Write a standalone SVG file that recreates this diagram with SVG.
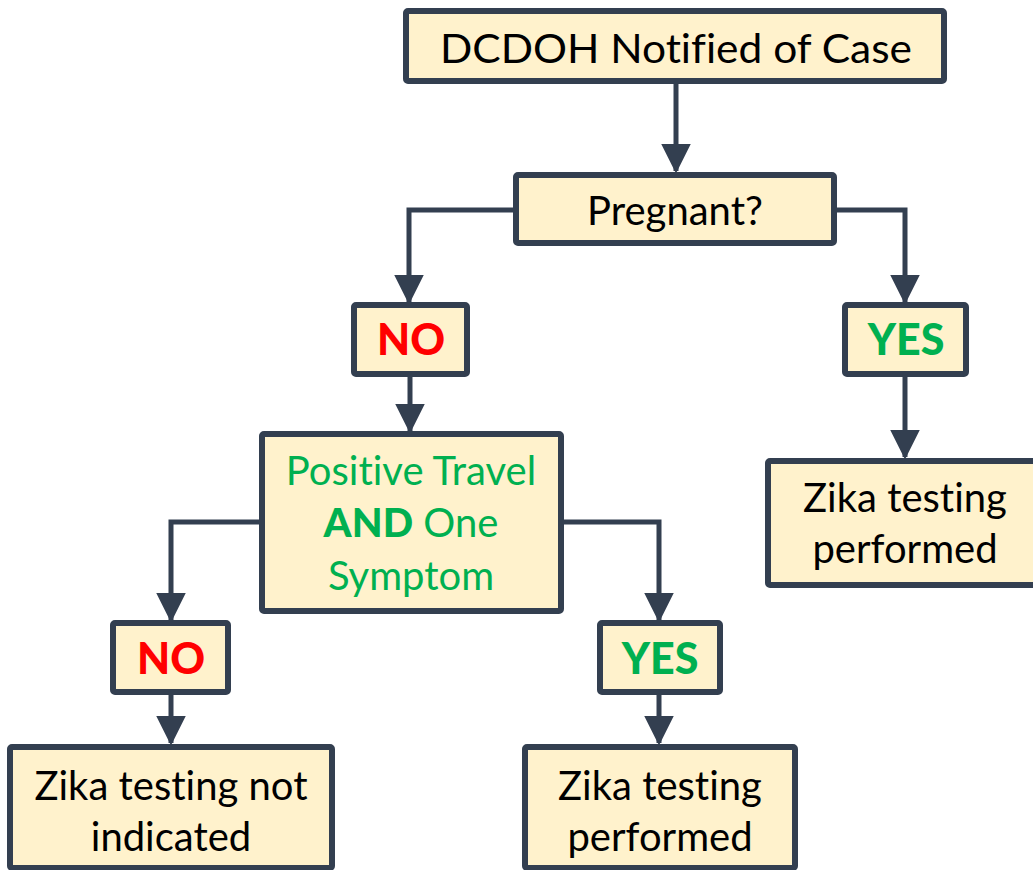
<svg xmlns="http://www.w3.org/2000/svg" width="1033" height="870" viewBox="0 0 1033 870">
<style>
text{font-variant-ligatures:none;font-feature-settings:"liga" 0}
.box{fill:#FFF2CC;stroke:#333F50;stroke-width:6;stroke-linejoin:round}
.t{font-family:Lato,"Liberation Sans",sans-serif;font-size:40px;fill:#000;text-anchor:middle}
.g{fill:#00B050}
.no{font-family:Lato,"Liberation Sans",sans-serif;font-weight:900;font-size:43px;fill:#FF0000;text-anchor:middle}
.yes{font-family:Lato,"Liberation Sans",sans-serif;font-weight:900;font-size:43px;fill:#00B050;text-anchor:middle}
.c{fill:none;stroke:#333F50;stroke-width:5;marker-end:url(#ah)}
</style>
<defs>
<marker id="ah" markerWidth="6" markerHeight="6" refX="5.5" refY="3" orient="auto" markerUnits="strokeWidth">
<path d="M0,0 L6,3 L0,6 Z" fill="#333F50"/>
</marker>
</defs>
<rect width="1033" height="870" fill="#FFFFFF"/>
<g id="connectors">
<path class="c" d="M676,82 V171"/>
<path class="c" d="M515,210 H409 V302"/>
<path class="c" d="M835,210 H905 V302"/>
<path class="c" d="M905,375 V457"/>
<path class="c" d="M410,375 V431"/>
<path class="c" d="M262,522 H171 V620"/>
<path class="c" d="M561,522 H659 V620"/>
<path class="c" d="M171,692 V743"/>
<path class="c" d="M659,692 V743"/>
</g>
<g id="n_notified">
<rect class="box" x="406" y="11" width="538" height="70" rx="2"/>
<text class="t" x="676" y="63" textLength="472" lengthAdjust="spacingAndGlyphs">DCDOH Notified of Case</text>
</g>
<g id="n_pregnant">
<rect class="box" x="516" y="175" width="318" height="68" rx="2"/>
<text class="t" x="675" y="225">Pregnant?</text>
</g>
<g id="n_no1">
<rect class="box" x="354" y="305" width="113" height="69" rx="2"/>
<text class="no" x="411" y="355">NO</text>
</g>
<g id="n_yes1">
<rect class="box" x="845" y="305" width="121" height="69" rx="2"/>
<text class="yes" x="906" y="355">YES</text>
</g>
<g id="n_zika_right">
<rect class="box" x="768" y="461" width="272" height="124" rx="2"/>
<text class="t" x="905" y="512">Zika testing</text>
<text class="t" x="905" y="563">performed</text>
</g>
<g id="n_travel">
<rect class="box" x="262" y="434" width="299" height="177" rx="2"/>
<text class="t g" x="411" y="485">Positive Travel</text>
<text class="t g" x="411" y="537"><tspan font-weight="900">AND</tspan> One</text>
<text class="t g" x="411" y="590">Symptom</text>
</g>
<g id="n_no2">
<rect class="box" x="113" y="623" width="115" height="69" rx="2"/>
<text class="no" x="171" y="674">NO</text>
</g>
<g id="n_yes2">
<rect class="box" x="600" y="623" width="120" height="69" rx="2"/>
<text class="yes" x="660" y="674">YES</text>
</g>
<g id="n_zika_not">
<rect class="box" x="10" y="747" width="322" height="121" rx="2"/>
<text class="t" x="171" y="800">Zika testing not</text>
<text class="t" x="171" y="851">indicated</text>
</g>
<g id="n_zika_perf">
<rect class="box" x="525" y="747" width="270" height="121" rx="2"/>
<text class="t" x="660" y="800">Zika testing</text>
<text class="t" x="660" y="851">performed</text>
</g>
</svg>
